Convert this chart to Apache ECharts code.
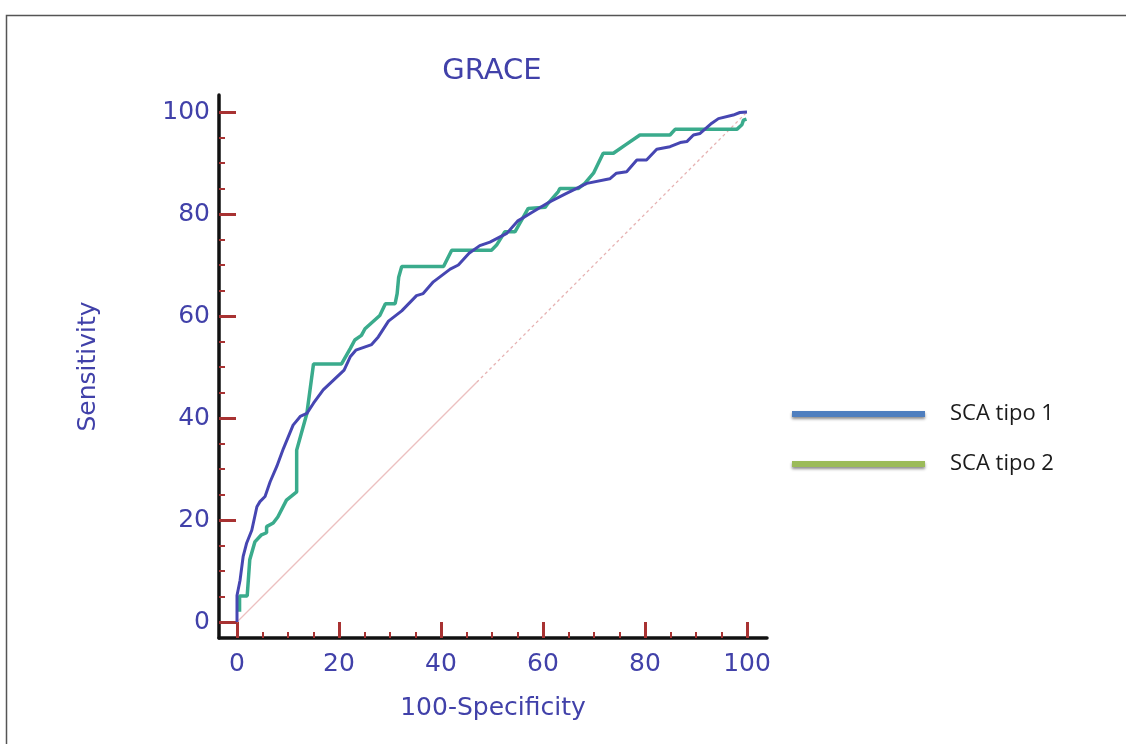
<!DOCTYPE html>
<html>
<head>
<meta charset="utf-8">
<script src="https://cdn.jsdelivr.net/npm/echarts@6/dist/echarts.min.js"></script>
<style>html,body{margin:0;padding:0;background:#fff;}#c{width:1126px;height:744px;}</style>
</head>
<body>
<div id="c"></div>
<script>
var titleText = 'GRACE';
var xName = '100-Specificity';
var yName = 'Sensitivity';
var seriesNames = ['SCA tipo 1', 'SCA tipo 2'];
var majorTicks = [0, 20, 40, 60, 80, 100];
var minorTicks = [5, 10, 15, 25, 30, 35, 45, 50, 55, 65, 70, 75, 85, 90, 95];

var sca1 = [[0,0],[0,5.2],[0.6,8.2],[1.2,12.8],[1.9,15.5],[2.9,18.0],[3.9,22.6],[4.5,23.6],[5.5,24.6],[6.5,27.5],[7.8,30.5],[9.1,34],[11.0,38.6],[12.4,40.3],[13.7,40.9],[15.0,42.9],[16.9,45.5],[21.0,49.4],[22.2,52.0],[23.3,53.3],[26.4,54.4],[27.7,55.9],[29.7,59.0],[32.3,61.0],[35.2,64.0],[36.5,64.4],[38.5,66.7],[41.8,69.2],[43.4,70.0],[45.5,72.3],[47.6,73.8],[49.6,74.5],[52.9,76.2],[55.0,78.6],[57.8,80.3],[61.0,82.2],[64.3,83.9],[68.6,86.0],[73.1,86.9],[74.4,88.0],[76.4,88.3],[78.4,90.6],[80.3,90.6],[82.3,92.7],[84.9,93.2],[86.9,94.0],[88.2,94.2],[89.5,95.5],[90.8,95.8],[93.1,97.8],[94.4,98.7],[97.3,99.4],[98.6,99.9],[100,100]];

var sca2 = [[0.5,2],[0.5,5.1],[2.0,5.1],[2.5,12.2],[3.5,15.7],[4.8,17.1],[5.8,17.5],[5.8,18.7],[7.1,19.4],[8.0,20.6],[9.7,23.9],[11.7,25.5],[11.7,33.7],[13.7,40.9],[15.0,50.6],[20.5,50.6],[22.2,53.6],[23.1,55.3],[24.4,56.2],[25.1,57.5],[28.0,60.1],[29.1,62.4],[31.0,62.4],[31.4,64.4],[31.7,67.6],[32.3,69.7],[40.5,69.7],[42.1,72.9],[49.9,72.9],[50.9,73.9],[52.5,76.5],[54.5,76.5],[57.1,81.1],[60.4,81.3],[61.0,82.1],[63.0,84.4],[63.3,85.0],[66.9,85.0],[68.2,86.0],[69.9,88.0],[71.8,91.9],[73.8,91.9],[76.1,93.5],[79.0,95.5],[84.9,95.5],[85.9,96.6],[98.0,96.6],[99.0,97.5],[99.3,98.4],[99.9,98.6]];

var diagSolid = [[0,0],[47,47]];
var diagDashed = [[47,47],[100,100]];

var labelColor = '#4141a9';
var tickColor = '#a83232';
var font = 'DejaVu Sans';

// axis extents: the axis lines extend beyond the 0..100 data range
var xMin = -18 / 5.1, xMax = 100 + 20 / 5.1;
var yMin = -16 / 5.1, yMax = 100 + 17 / 5.1;

function axisPair(isX) {
  var mn = isX ? xMin : yMin, mx = isX ? xMax : yMax;
  var major = {
    type: 'value', min: mn, max: mx,
    position: isX ? 'bottom' : 'left',
    axisLine: {show: true, onZero: false, lineStyle: {color: '#111', width: 3.5}},
    axisTick: {show: true, inside: true, length: isX ? 16 : 17, customValues: majorTicks,
               lineStyle: {color: tickColor, width: 3}},
    axisLabel: {show: true, customValues: majorTicks, color: labelColor, fontFamily: font,
                fontSize: 25, margin: isX ? 14 : 9},
    splitLine: {show: false},
    name: isX ? xName : yName, nameLocation: 'middle',
    nameGap: isX ? 58 : 118, nameRotate: isX ? 0 : 90,
    nameTextStyle: {color: labelColor, fontFamily: font, fontSize: 25}
  };
  var minor = {
    type: 'value', min: mn, max: mx,
    position: isX ? 'bottom' : 'left',
    axisLine: {show: false, onZero: false},
    axisTick: {show: true, inside: true, length: 6, customValues: minorTicks,
               lineStyle: {color: tickColor, width: 2}},
    axisLabel: {show: false},
    splitLine: {show: false}
  };
  return [major, minor];
}

var chart = echarts.init(document.getElementById('c'), null, {renderer:'canvas'});
chart.setOption({
  animation: false,
  backgroundColor: '#fff',
  title: {
    text: titleText, left: 487, top: 52, textAlign: 'center',
    textStyle: {color: labelColor, fontFamily: font, fontSize: 29, fontWeight: 'normal'}
  },
  graphic: [{
    type: 'rect', left: 4, top: 13, shape: {width: 1200, height: 800},
    style: {fill: 'none', stroke: '#555', lineWidth: 1.5}, silent: true, z: -1
  }],
  legend: {
    orient: 'vertical', left: 787, top: 398, itemGap: 28,
    itemWidth: 133, itemHeight: 6, icon: 'rect',
    textStyle: {fontFamily: 'Open Sans', fontSize: 22, color: '#1a1a1a', padding: [0,0,0,20]},
    data: [
      {name: seriesNames[0], itemStyle: {color: '#4f7fbf', shadowColor: 'rgba(0,0,0,0.45)', shadowBlur: 3, shadowOffsetY: 2}},
      {name: seriesNames[1], itemStyle: {color: '#9bbb59', shadowColor: 'rgba(0,0,0,0.45)', shadowBlur: 3, shadowOffsetY: 2}}
    ]
  },
  grid: {left: 219, top: 95, width: 548, height: 543},
  xAxis: axisPair(true),
  yAxis: axisPair(false),
  series: [
    {name: 'diag', type: 'line', data: diagSolid, symbol: 'none', silent: true,
     lineStyle: {color: '#ecc0c0', width: 1.3}, z: 1},
    {name: 'diag2', type: 'line', data: diagDashed, symbol: 'none', silent: true,
     lineStyle: {color: '#e6b2b2', width: 1.3, type: [3, 3]}, z: 1},
    {name: seriesNames[1], type: 'line', data: sca2, symbol: 'none',
     lineStyle: {color: '#3aab8c', width: 3.5}, itemStyle: {color: '#3aab8c'}, z: 2},
    {name: seriesNames[0], type: 'line', data: sca1, symbol: 'none',
     lineStyle: {color: '#4646b2', width: 3}, itemStyle: {color: '#4646b2'}, z: 3}
  ]
});
</script>
</body>
</html>
